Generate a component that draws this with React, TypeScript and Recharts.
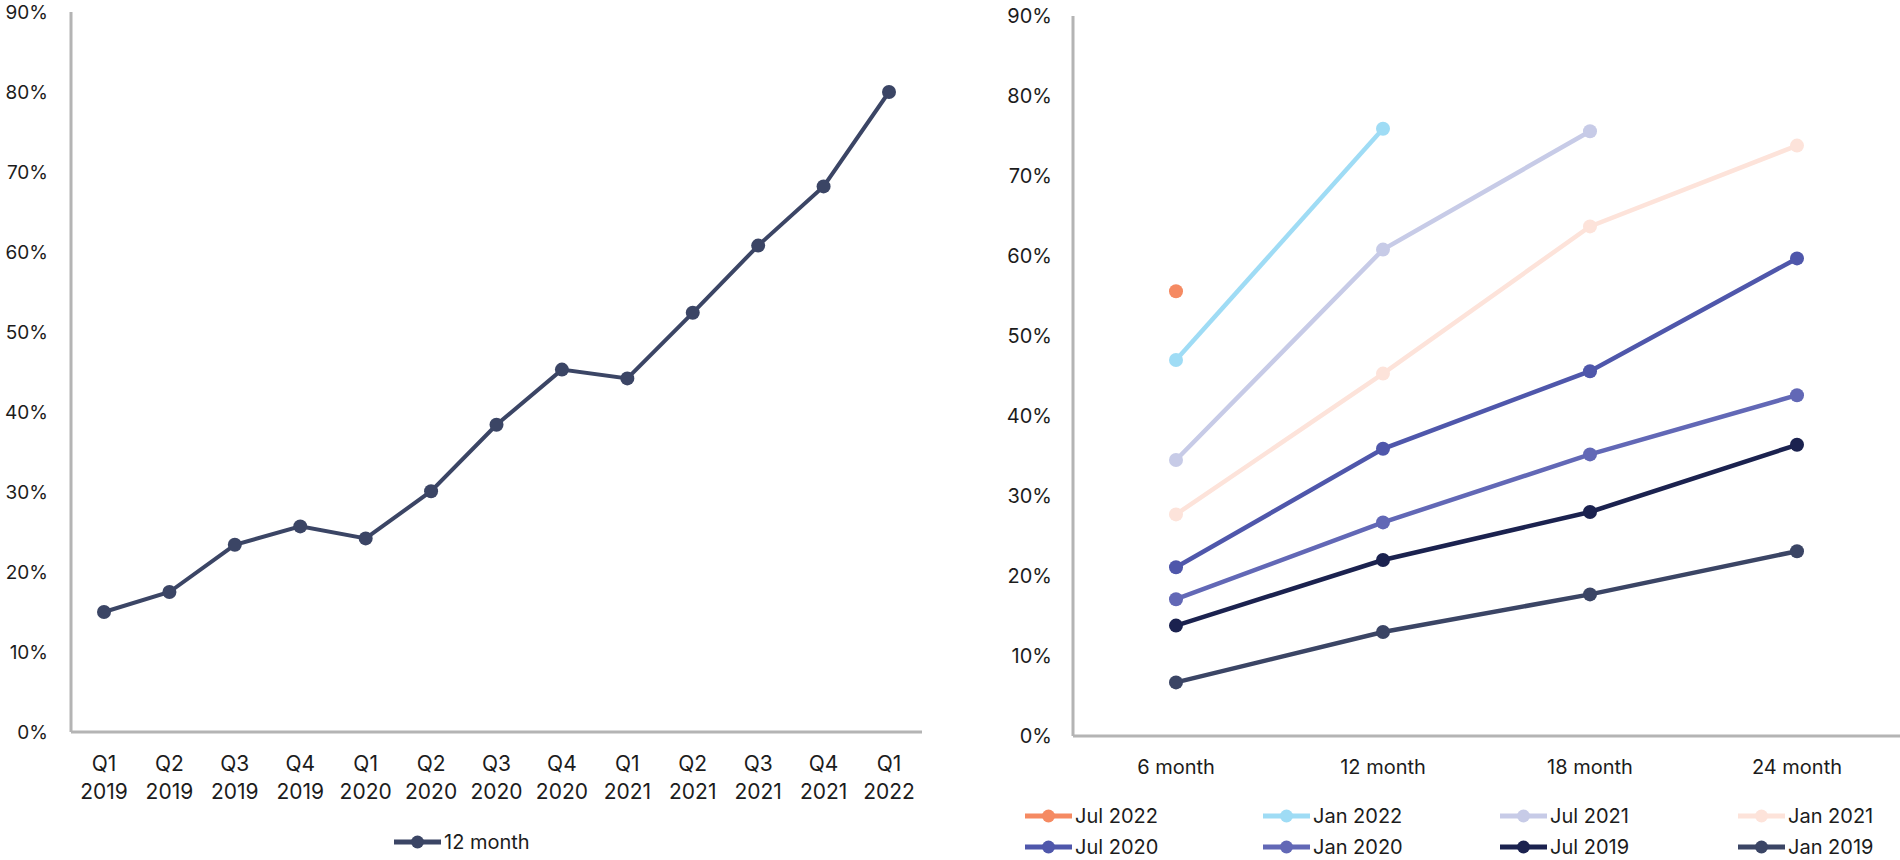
import React from 'react';
import { LineChart, Line, XAxis, YAxis } from 'recharts';

// Left chart: 12 month rate by quarter
const quarters = ['Q1 2019', 'Q2 2019', 'Q3 2019', 'Q4 2019', 'Q1 2020', 'Q2 2020', 'Q3 2020', 'Q4 2020', 'Q1 2021', 'Q2 2021', 'Q3 2021', 'Q4 2021', 'Q1 2022'];
const twelveMonth = [15.0, 17.5, 23.4, 25.7, 24.2, 30.1, 38.4, 45.3, 44.2, 52.4, 60.8, 68.2, 80.0];

// Right chart: cohorts by horizon
const horizons = ['6 month', '12 month', '18 month', '24 month'];
const jul2022 = [55.6];
const jan2022 = [47.0, 75.9];
const jul2021 = [34.5, 60.8, 75.6];
const jan2021 = [27.7, 45.3, 63.7, 73.8];
const jul2020 = [21.1, 35.9, 45.6, 59.7];
const jan2020 = [17.1, 26.7, 35.2, 42.6];
const jul2019 = [13.8, 22.0, 28.0, 36.4];
const jan2019 = [6.7, 13.0, 17.7, 23.1];

const yTicks = [0, 10, 20, 30, 40, 50, 60, 70, 80, 90];

const cohorts = [
  { name: 'Jul 2022', values: jul2022, color: '#F58A62' },
  { name: 'Jan 2022', values: jan2022, color: '#9FDCF5' },
  { name: 'Jul 2021', values: jul2021, color: '#C7CBE7' },
  { name: 'Jan 2021', values: jan2021, color: '#FDE3DA' },
  { name: 'Jul 2020', values: jul2020, color: '#4F57AB' },
  { name: 'Jan 2020', values: jan2020, color: '#6268B6' },
  { name: 'Jul 2019', values: jul2019, color: '#1B224F' },
  { name: 'Jan 2019', values: jan2019, color: '#3B4565' },
];

const LINE_COLOR = '#3B4565';
const AXIS_COLOR = '#B4B4B4';
const TEXT_COLOR = '#1c1c1c';

const leftData = quarters.map((q, i) => ({ q, v: twelveMonth[i] }));
const rightData = horizons.map((h, i) => {
  const row: Record<string, any> = { h };
  cohorts.forEach((c) => {
    row[c.name] = c.values[i] ?? null;
  });
  return row;
});

const QuarterTick = (props: any) => {
  const { x, y, payload } = props;
  const [q, yr] = String(payload.value).split(' ');
  return (
    <text x={x} y={y} textAnchor="middle" fill={TEXT_COLOR} fontSize={21}>
      <tspan x={x} dy={31}>{q}</tspan>
      <tspan x={x} dy={28}>{yr}</tspan>
    </text>
  );
};

const HorizonTick = (props: any) => {
  const { x, y, payload } = props;
  return (
    <text x={x} y={y} dy={30} textAnchor="middle" fill={TEXT_COLOR} fontSize={20}>
      {payload.value}
    </text>
  );
};

const LegendIcon = ({ color }: { color: string }) => (
  <svg width={47} height={14} style={{ display: 'block' }}>
    <line x1={0} y1={7} x2={47} y2={7} stroke={color} strokeWidth={5} strokeLinecap="round" />
    <circle cx={23.5} cy={7} r={6.5} fill={color} />
  </svg>
);

const LegendItem = ({ name, color, left, top }: { name: string; color: string; left: number; top: number }) => (
  <div style={{ position: 'absolute', left, top: top - 12, height: 24, display: 'flex', alignItems: 'center', gap: 3, fontSize: 20, color: TEXT_COLOR, whiteSpace: 'nowrap' }}>
    <LegendIcon color={color} />
    <span>{name}</span>
  </div>
);

export default function App() {
  const legendCols = [1025, 1263, 1500, 1738];
  const legendRows = [816, 847];
  return (
    <div style={{ position: 'absolute', left: 0, top: 0, width: 1900, height: 860, background: '#fff', fontFamily: 'Inter, "Noto Sans", sans-serif', overflow: 'hidden' }}>
      <div style={{ position: 'absolute', left: 0, top: 0 }}>
        <LineChart width={940} height={860} data={leftData} margin={{ top: 12, right: 18, left: 0, bottom: 0 }}>
          <XAxis
            dataKey="q"
            interval={0}
            padding={{ left: 33, right: 33 }}
            height={128}
            tickLine={false}
            axisLine={{ stroke: AXIS_COLOR, strokeWidth: 3 }}
            tick={<QuarterTick />}
          />
          <YAxis
            width={71}
            domain={[0, 90]}
            ticks={yTicks}
            interval={0}
            tickLine={false}
            tickMargin={17}
            axisLine={{ stroke: AXIS_COLOR, strokeWidth: 3 }}
            tick={{ fill: TEXT_COLOR, fontSize: 19 }}
            tickFormatter={(v: number) => `${v}%`}
          />
          <Line
            type="linear"
            dataKey="v"
            name="12 month"
            stroke={LINE_COLOR}
            strokeWidth={4}
            dot={{ r: 7, fill: LINE_COLOR, stroke: LINE_COLOR, strokeWidth: 0 }}
            activeDot={false}
            isAnimationActive={false}
          />
        </LineChart>
      </div>
      <LegendItem name="12 month" color={LINE_COLOR} left={394} top={842} />

      <div style={{ position: 'absolute', left: 980, top: 0 }}>
        <LineChart width={920} height={860} data={rightData} margin={{ top: 16, right: 0, left: 0, bottom: 0 }}>
          <XAxis
            dataKey="h"
            interval={0}
            padding={{ left: 103, right: 103 }}
            height={124}
            tickLine={false}
            axisLine={{ stroke: AXIS_COLOR, strokeWidth: 3 }}
            tick={<HorizonTick />}
          />
          <YAxis
            width={93}
            domain={[0, 90]}
            ticks={yTicks}
            interval={0}
            tickLine={false}
            tickMargin={15}
            axisLine={{ stroke: AXIS_COLOR, strokeWidth: 3 }}
            tick={{ fill: TEXT_COLOR, fontSize: 20 }}
            tickFormatter={(v: number) => `${v}%`}
          />
          {cohorts.map((c) => (
            <Line
              key={c.name}
              type="linear"
              dataKey={c.name}
              stroke={c.color}
              strokeWidth={4.5}
              dot={{ r: 7, fill: c.color, stroke: c.color, strokeWidth: 0 }}
              activeDot={false}
              isAnimationActive={false}
            />
          ))}
        </LineChart>
      </div>
      {cohorts.map((c, i) => (
        <LegendItem
          key={c.name}
          name={c.name}
          color={c.color}
          left={legendCols[i % 4]}
          top={legendRows[Math.floor(i / 4)]}
        />
      ))}
    </div>
  );
}
